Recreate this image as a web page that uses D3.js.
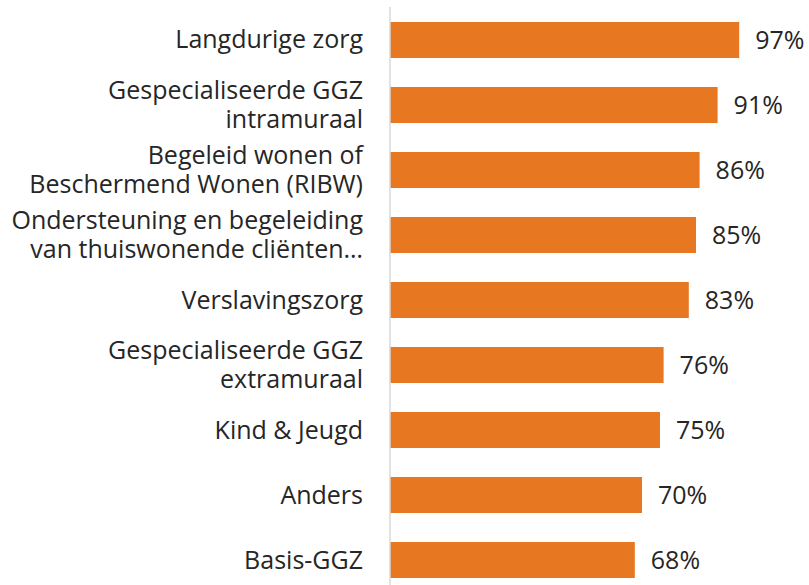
<!DOCTYPE html>
<html>
<head>
<meta charset="utf-8">
<script src="https://cdn.jsdelivr.net/npm/d3@7"></script>
<style>
  body { margin: 0; background: #fff; }
  text { font-family: "Open Sans", sans-serif; fill: #262626; }
</style>
</head>
<body>
<div id="chart"></div>
<script>
const width = 809;
const height = 585;

// data
const categories = [
  "Langdurige zorg",
  "Gespecialiseerde GGZ\nintramuraal",
  "Begeleid wonen of\nBeschermend Wonen (RIBW)",
  "Ondersteuning en begeleiding\nvan thuiswonende cliënten…",
  "Verslavingszorg",
  "Gespecialiseerde GGZ\nextramuraal",
  "Kind & Jeugd",
  "Anders",
  "Basis-GGZ"
];
const values = [0.97, 0.91, 0.86, 0.85, 0.83, 0.76, 0.75, 0.70, 0.68];

const barColor = "#e87722";
const labelSize = 25;
const valueSize = 25;
const lineHeight = 29;

const svg = d3.select("#chart")
              .append("svg")
              .attr("width", width)
              .attr("height", height);

const x = d3.scaleLinear()
            .domain([0, 1])
            .range([390, 750]);

const y = d3.scaleBand()
            .domain(categories)
            .range([7.5, 592.5])
            .paddingInner(29 / 65)
            .paddingOuter(0.223);

const data = categories.map((c, i) => ({label: c, value: values[i]}));

// bars
svg.append("g")
   .selectAll("rect")
   .data(data)
   .join("rect")
   .attr("x", x(0))
   .attr("y", d => y(d.label))
   .attr("width", d => x(d.value) - x(0))
   .attr("height", y.bandwidth())
   .attr("fill", barColor);

// vertical axis line
svg.append("line")
   .attr("x1", x(0)).attr("x2", x(0))
   .attr("y1", 7).attr("y2", height)
   .attr("stroke", "#d9d9d9")
   .attr("stroke-width", 1.5);

// category labels
const labels = svg.append("g")
                  .selectAll("text")
                  .data(data)
                  .join("text")
                  .attr("text-anchor", "end")
                  .attr("font-size", labelSize)
                  .attr("y", d => y(d.label) + y.bandwidth() / 2);

labels.each(function(d) {
  const lines = d.label.split("\n");
  const t = d3.select(this);
  lines.forEach((l, i) => {
    t.append("tspan")
     .attr("x", 363)
     .attr("dy", i === 0 ? (-(lines.length - 1) / 2 * lineHeight + 8.5) : lineHeight)
     .text(l);
  });
});

// value labels
svg.append("g")
   .selectAll("text")
   .data(data)
   .join("text")
   .attr("x", d => x(d.value) + 16)
   .attr("y", d => y(d.label) + y.bandwidth() / 2 + 9)
   .attr("font-size", valueSize)
   .text(d => d3.format(".0%")(d.value));
</script>
</body>
</html>
